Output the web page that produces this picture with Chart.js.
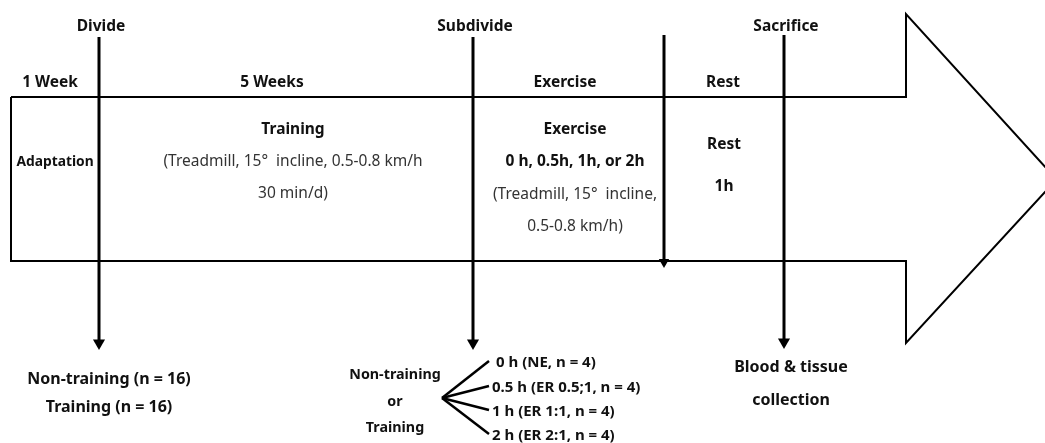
<!DOCTYPE html>
<html>
<head>
<meta charset="utf-8">
<script src="https://cdn.jsdelivr.net/npm/chart.js@4/dist/chart.umd.min.js"></script>
<style>
  html, body { margin: 0; padding: 0; background: #fff; }
  #wrap { width: 1045px; height: 443px; position: relative; }
</style>
</head>
<body>
<div id="wrap"><canvas id="chart-protocolo"></canvas></div>
<script>
/*
  ==================================================
  ====================== DATOS ======================
  ==================================================
*/

// big timeline arrow (x, y in diagram units = pixels of the reference)
const arrowX = [11, 906, 906, 1056.5, 906, 906, 11, 11];
const arrowY = [97, 97, 14, 179.5, 343, 261, 261, 97];

// vertical event markers
const markerLabels = ['Divide', 'Subdivide', '', 'Sacrifice'];
const markerX = [99, 473, 664, 784];
const markerTop = [37, 37, 35, 35];
const markerEnd = [349, 349, 268, 348];

// phase headers above the arrow
const phaseLabels = ['1 Week', '5 Weeks', 'Exercise', 'Rest'];
const phaseX = [50, 272, 565, 723];

// texts inside the arrow
const bodyLines = [
  ['Adaptation'],
  ['Training', '(Treadmill, 15°  incline, 0.5-0.8 km/h', '30 min/d)'],
  ['Exercise', '0 h, 0.5h, 1h, or 2h', '(Treadmill, 15°  incline,', '0.5-0.8 km/h)'],
  ['Rest', '1h']
];
const bodyX = [55, 293, 575, 724];
const bodyY = [[160], [128, 160, 192], [128, 160, 193, 225], [143, 185]];
const bodyBold = [[true], [true, false, false], [true, true, false, false], [true, true]];

// groups below
const groupLabels = ['Non-training (n = 16)', 'Training (n = 16)'];
const subLabels = ['Non-training', 'or', 'Training'];
const armLabels = ['0 h (NE, n = 4)', '0.5 h (ER 0.5;1, n = 4)', '1 h (ER 1:1, n = 4)', '2 h (ER 2:1, n = 4)'];
const armY = [361, 386, 410, 434];
const collectLabels = ['Blood & tissue', 'collection'];

/*
  ==================================================
  ==================== DATASETS ====================
  ==================================================
*/

let pts = (xs, ys) => xs.map((x, i) => ({ x, y: ys[i] }));

let datasets = [{
  data: pts(arrowX, arrowY),
  showLine: true,
  borderColor: '#000',
  borderWidth: 2,
  pointRadius: 0,
  tension: 0
}];

markerX.forEach((x, i) => {
  datasets.push({
    data: pts([x, x], [markerTop[i], markerEnd[i] - 6]),
    showLine: true,
    borderColor: '#000',
    backgroundColor: '#000',
    borderWidth: 3,
    pointStyle: 'triangle',
    rotation: 180,
    pointRadius: [0, i == 2 ? 6 : 7],
    pointBorderWidth: 0,
    tension: 0
  });
});

// fan from "Non-training or Training" to the four arms
armY.forEach(y => {
  datasets.push({
    data: pts([442, 489], [398, y]),
    showLine: true,
    borderColor: '#000',
    borderWidth: 2.5,
    pointRadius: 0
  });
});

/*
  ==================================================
  ===================== TEXTOS =====================
  ==================================================
*/

const FONT = '"Noto Sans", "Noto Sans CJK KR", sans-serif';
const DY = 2; // middle baseline sits a bit high in Noto Sans

let textos = {
  id: 'textos',
  afterDatasetsDraw(chart) {
    let { ctx, scales: { x: sx, y: sy } } = chart;
    let put = (txt, x, y, bold, size, align = 'center') => {
      ctx.font = `${bold ? 'bold ' : ''}${size}px ${FONT}`;
      ctx.textAlign = align;
      ctx.textBaseline = 'middle';
      ctx.fillStyle = bold ? '#111' : '#333';
      ctx.fillText(txt, sx.getPixelForValue(x), sy.getPixelForValue(y + DY));
    };
    ctx.save();
    markerLabels.forEach((l, i) => l && put(l, markerX[i] + 2, 25, true, 15.5));
    phaseLabels.forEach((l, i) => put(l, phaseX[i], 81, true, 15.5));
    bodyLines.forEach((lines, i) => lines.forEach((l, j) =>
      put(l, bodyX[i], bodyY[i][j], bodyBold[i][j], i == 0 ? 13.8 : 15.5)));
    groupLabels.forEach((l, i) => put(l, 109, 377 + i * 28, true, 16));
    subLabels.forEach((l, i) => put(l, 395, 373 + i * 26.5, true, 14.3));
    armLabels.forEach((l, i) => put(l, i == 0 ? 496 : 492, armY[i], true, 15, 'left'));
    collectLabels.forEach((l, i) => put(l, 791, 365 + i * 33, true, 16));
    ctx.restore();
  }
};

/*
  ==================================================
  ===================== GRAFICO =====================
  ==================================================
*/

let canvas = document.getElementById('chart-protocolo').getContext('2d');

let chart = new Chart(canvas, {
  type: 'scatter',
  data: { datasets },
  options: {
    responsive: true,
    maintainAspectRatio: false,
    animation: false,
    layout: { padding: 0, autoPadding: false },
    plugins: { legend: { display: false }, tooltip: { enabled: false } },
    scales: {
      x: { type: 'linear', min: 0, max: 1045, display: false },
      y: { type: 'linear', min: 0, max: 443, reverse: true, display: false }
    }
  },
  plugins: [textos]
});
</script>
</body>
</html>
